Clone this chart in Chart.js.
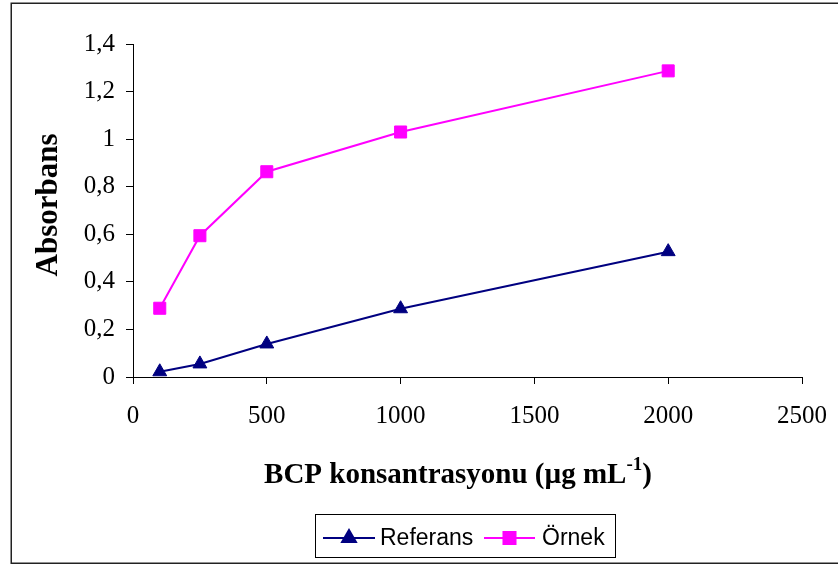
<!DOCTYPE html>
<html>
<head>
<meta charset="utf-8">
<script src="https://cdn.jsdelivr.net/npm/chart.js@4"></script>
<style>
  html, body { margin: 0; padding: 0; background: #fff; }
  #wrap { width: 838px; height: 567px; }
</style>
</head>
<body>
<div id="wrap"><canvas id="c" width="838" height="567"></canvas></div>
<script>
// BCP concentration (µg mL-1) and measured absorbance
const concentrations = [100, 250, 500, 1000, 2000];
const referansValues = [0.022, 0.055, 0.139, 0.287, 0.527];
const ornekValues = [0.289, 0.594, 0.863, 1.03, 1.287];
const seriesNames = ['Referans', 'Örnek'];
const xTicks = [0, 500, 1000, 1500, 2000, 2500];
const yTicks = [0, 0.2, 0.4, 0.6, 0.8, 1, 1.2, 1.4];

const NAVY = '#000080';
const MAGENTA = '#FF00FF';
const SERIF = '"Liberation Serif", "Times New Roman", serif';
const SANS = '"Liberation Sans", Arial, sans-serif';

const toPoints = ys => concentrations.map((x, i) => ({ x: x, y: ys[i] }));

// Frame, axis titles and the boxed legend
const decorations = {
  id: 'decorations',
  beforeDraw(chart) {
    const ctx = chart.ctx;
    ctx.save();
    ctx.fillStyle = '#fff';
    ctx.fillRect(0, 0, chart.width, chart.height);
    ctx.strokeStyle = '#222';
    ctx.lineWidth = 1.5;
    ctx.strokeRect(11.25, 3.25, 840, 560);
    ctx.restore();
  },
  afterDraw(chart) {
    const ctx = chart.ctx;
    ctx.save();
    ctx.fillStyle = '#000';

    // y-axis title
    ctx.font = 'bold 31px ' + SERIF;
    ctx.textAlign = 'center';
    ctx.textBaseline = 'middle';
    ctx.translate(49, 205);
    ctx.rotate(-Math.PI / 2);
    ctx.fillText('Absorbans', 0, 0);
    ctx.setTransform(1, 0, 0, 1, 0, 0);

    // x-axis title with superscript
    const main = 'BCP konsantrasyonu (µg mL';
    const sup = '-1';
    const tail = ')';
    ctx.font = 'bold 29px ' + SERIF;
    const wMain = ctx.measureText(main).width;
    const wTail = ctx.measureText(tail).width;
    ctx.font = 'bold 19px ' + SERIF;
    const wSup = ctx.measureText(sup).width;
    const total = wMain + wSup + wTail;
    let x = 458 - total / 2;
    const base = 483;
    ctx.textAlign = 'left';
    ctx.textBaseline = 'alphabetic';
    ctx.font = 'bold 29px ' + SERIF;
    ctx.fillText(main, x, base);
    x += wMain;
    ctx.font = 'bold 19px ' + SERIF;
    ctx.fillText(sup, x, base - 13);
    x += wSup;
    ctx.font = 'bold 29px ' + SERIF;
    ctx.fillText(tail, x, base);

    // legend box
    ctx.strokeStyle = '#000';
    ctx.lineWidth = 1;
    ctx.strokeRect(315.5, 514.5, 300, 43);
    const legendY = 538;
    const items = [
      { ds: chart.data.datasets[0], x0: 323, x1: 375, tx: 380 },
      { ds: chart.data.datasets[1], x0: 484, x1: 535, tx: 542 }
    ];
    ctx.font = '23px ' + SANS;
    ctx.textBaseline = 'middle';
    items.forEach(it => {
      ctx.strokeStyle = it.ds.borderColor;
      ctx.lineWidth = 2;
      ctx.beginPath();
      ctx.moveTo(it.x0, legendY);
      ctx.lineTo(it.x1, legendY);
      ctx.stroke();
      Chart.helpers.drawPoint(ctx, {
        pointStyle: it.ds.pointStyle,
        radius: it.ds.pointRadius,
        borderWidth: 1,
        rotation: 0
      }, (it.x0 + it.x1) / 2, legendY);
      ctx.fillStyle = it.ds.backgroundColor;
      ctx.strokeStyle = it.ds.borderColor;
      ctx.fill();
      ctx.fillStyle = '#000';
      ctx.fillText(it.ds.label, it.tx, legendY + 1);
    });
    ctx.restore();
  }
};

new Chart(document.getElementById('c'), {
  type: 'scatter',
  data: {
    datasets: [
      {
        label: seriesNames[0],
        data: toPoints(referansValues),
        showLine: true,
        borderColor: NAVY,
        backgroundColor: NAVY,
        borderWidth: 2,
        pointStyle: 'triangle',
        pointRadius: 8,
        pointHoverRadius: 8,
        pointBorderWidth: 1
      },
      {
        label: seriesNames[1],
        data: toPoints(ornekValues),
        showLine: true,
        borderColor: MAGENTA,
        backgroundColor: MAGENTA,
        borderWidth: 2,
        pointStyle: 'rect',
        pointRadius: 8.5,
        pointHoverRadius: 8.5,
        pointBorderWidth: 1
      }
    ]
  },
  options: {
    responsive: false,
    animation: false,
    devicePixelRatio: 1,
    layout: { padding: { left: 0, top: 44, right: 36, bottom: 0 } },
    plugins: {
      legend: { display: false },
      tooltip: { enabled: false }
    },
    scales: {
      x: {
        type: 'linear',
        min: xTicks[0],
        max: xTicks[xTicks.length - 1],
        afterBuildTicks(scale) { scale.ticks = xTicks.map(v => ({ value: v })); },
        afterFit(scale) {
          scale.height = 190;
          scale.paddingLeft = 0;
          scale.paddingRight = 0;
        },
        grid: { display: true, drawOnChartArea: false, drawTicks: true, tickLength: 7, color: '#000', lineWidth: 1 },
        border: { display: true, color: '#000', width: 1 },
        ticks: {
          color: '#000',
          padding: 17,
          maxRotation: 0,
          font: { family: SERIF, size: 25 },
          callback: v => String(v)
        }
      },
      y: {
        type: 'linear',
        min: yTicks[0],
        max: yTicks[yTicks.length - 1],
        afterBuildTicks(scale) { scale.ticks = yTicks.map(v => ({ value: v })); },
        afterFit(scale) {
          scale.width = 133;
          scale.paddingTop = 0;
          scale.paddingBottom = 0;
        },
        grid: { display: true, drawOnChartArea: false, drawTicks: true, tickLength: 7, color: '#000', lineWidth: 1 },
        border: { display: true, color: '#000', width: 1 },
        ticks: {
          color: '#000',
          padding: 11,
          font: { family: SERIF, size: 25 },
          callback: v => String(Math.round(v * 10) / 10).replace('.', ',')
        }
      }
    }
  },
  plugins: [decorations]
});
</script>
</body>
</html>
